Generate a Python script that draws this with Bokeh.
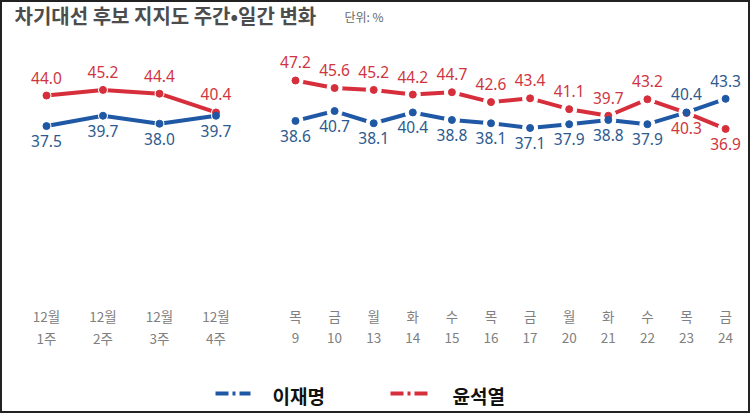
from bokeh.plotting import figure
from bokeh.models import Range1d, Label, ColumnDataSource
from bokeh.core.properties import value
from bokeh.embed import file_html
from bokeh.resources import INLINE

# ---------------- data ----------------
week_top = ["12월", "12월", "12월", "12월"]
week_bottom = ["1주", "2주", "3주", "4주"]
day_top = ["목", "금", "월", "화", "수", "목", "금", "월", "화", "수", "목", "금"]
day_bottom = ["9", "10", "13", "14", "15", "16", "17", "20", "21", "22", "23", "24"]

lee_week = [37.5, 39.7, 38.0, 39.7]
yoon_week = [44.0, 45.2, 44.4, 40.4]
lee_day = [38.6, 40.7, 38.1, 40.4, 38.8, 38.1, 37.1, 37.9, 38.8, 37.9, 40.4, 43.3]
yoon_day = [47.2, 45.6, 45.2, 44.2, 44.7, 42.6, 43.4, 41.1, 39.7, 43.2, 40.3, 36.9]

# label side (+1 above, -1 below)
lee_day_side = [-1] * 10 + [1, 1]
yoon_day_side = [1] * 10 + [-1, -1]

title = "차기대선 후보 지지도 주간•일간 변화"
unit = "단위: %"
names = ["이재명", "윤석열"]

# ---------------- layout ----------------
W, H = 750, 413
YMIN, YMAX = -23.65, 64.22
PXU = H / (YMAX - YMIN)  # pixels per percentage point

RED = "#d62f3b"
BLUE = "#1f58a5"
RED_T = "#cf3541"
BLUE_T = "#2c5a8e"

week_x = [46 + 56.5 * i for i in range(len(lee_week))]
day_x = [295 + 39.1 * i for i in range(len(lee_day))]

def px_to_y(py):
    return YMAX - py / PXU

p = figure(width=W, height=H, x_range=Range1d(0, W), y_range=Range1d(YMIN, YMAX),
           output_backend="svg", toolbar_location=None,
           x_axis_type=None, y_axis_type=None, min_border=0)
p.grid.visible = False
p.background_fill_color = "white"
p.border_fill_color = "white"
p.outline_line_color = "#222222"
p.outline_line_width = 3

# lines
for xs, ys, c in [(week_x, yoon_week, RED), (week_x, lee_week, BLUE),
                  (day_x, yoon_day, RED), (day_x, lee_day, BLUE)]:
    p.line(xs, ys, line_width=4, line_color=c, line_join="round", line_cap="butt")

# halos and dots
p.scatter(week_x, yoon_week, size=9, color="white")
p.scatter(week_x, lee_week, size=9, color="white")
p.scatter(day_x, yoon_day, size=15, color="white")
p.scatter(day_x, lee_day, size=15, color="white")
for xs, ys, c in [(week_x, yoon_week, RED), (week_x, lee_week, BLUE),
                  (day_x, yoon_day, RED), (day_x, lee_day, BLUE)]:
    p.scatter(xs, ys, size=7, color=c)

# value labels
UP = 18 / PXU
DN = 15 / PXU

def add_labels(xs, ys, sides, color):
    ly = [v + (UP if s > 0 else -DN) for v, s in zip(ys, sides)]
    src = ColumnDataSource(dict(x=xs, y=ly, t=["%.1f" % v for v in ys]))
    p.text("x", "y", "t", source=src, text_color=color, text_font=value("Noto Sans"),
           text_font_size="15.5px", text_align="center", text_baseline="middle")

add_labels(week_x, yoon_week, [1] * 4, RED_T)
add_labels(week_x, lee_week, [-1] * 4, BLUE_T)
add_labels(day_x, yoon_day, yoon_day_side, RED_T)
add_labels(day_x, lee_day, lee_day_side, BLUE_T)

# category labels
for xs, top, bot in [(week_x, week_top, week_bottom), (day_x, day_top, day_bottom)]:
    p.text(xs, [px_to_y(315)] * len(xs), top, text_color="#808080",
           text_font=value("Noto Sans CJK KR"), text_font_size="13.5px",
           text_align="center", text_baseline="middle")
    p.text(xs, [px_to_y(337)] * len(xs), bot, text_color="#808080",
           text_font=value("Noto Sans CJK KR"), text_font_size="13.5px",
           text_align="center", text_baseline="middle")

# title
p.add_layout(Label(x=14, y=H - 15, x_units="screen", y_units="screen", text=title,
                   text_font="Noto Sans CJK KR", text_font_style="bold",
                   text_font_size="20px", text_color="#4d4d4d", text_baseline="middle"))
p.add_layout(Label(x=344, y=H - 16, x_units="screen", y_units="screen", text=unit,
                   text_font="Noto Sans CJK KR", text_font_size="12px",
                   text_color="#666666", text_baseline="middle"))

# legend (drawn manually: dash-dot swatch + bold label)
leg_y = px_to_y(393)
leg_ty = px_to_y(395)
for (x0, x1, tx), c, name in [((215, 250, 272), BLUE, names[0]),
                              ((390, 428, 452), RED, names[1])]:
    p.line([x0, x1], [leg_y, leg_y], line_width=4, line_color=c, line_dash="13 4 3 4")
    p.text([tx], [leg_ty], [name], text_color="#111111",
           text_font=value("Noto Sans CJK KR"), text_font_style="bold",
           text_font_size="19px", text_align="left", text_baseline="middle")

open("out.html", "w").write(file_html(p, INLINE))
